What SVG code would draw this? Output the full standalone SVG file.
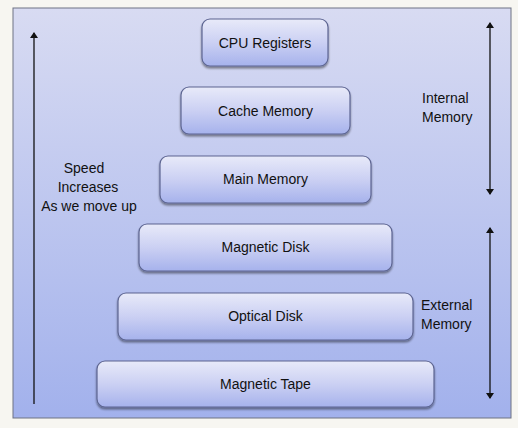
<svg xmlns="http://www.w3.org/2000/svg" width="518" height="428" viewBox="0 0 518 428">
<defs>
<linearGradient id="panel" x1="0" y1="0" x2="0" y2="1">
<stop offset="0" stop-color="#d8dbf2"/>
<stop offset="1" stop-color="#a2b1ec"/>
</linearGradient>
<linearGradient id="box" x1="0" y1="0" x2="0" y2="1">
<stop offset="0" stop-color="#e8eaf9"/>
<stop offset="0.5" stop-color="#cbd0f3"/>
<stop offset="1" stop-color="#a6b2ec"/>
</linearGradient>
<filter id="sh" x="-10%" y="-10%" width="120%" height="140%">
<feGaussianBlur in="SourceAlpha" stdDeviation="1.2"/>
<feOffset dx="0" dy="2" result="b"/>
<feComponentTransfer><feFuncA type="linear" slope="0.45"/></feComponentTransfer>
<feMerge><feMergeNode/><feMergeNode in="SourceGraphic"/></feMerge>
</filter>
<marker id="ah" viewBox="0 0 6 8" refX="5" refY="4" markerWidth="6" markerHeight="8" orient="auto" markerUnits="userSpaceOnUse">
<path d="M0,0 L6,4 L0,8 z" fill="#111"/>
</marker>
</defs>
<style>
.node rect{fill:url(#box);stroke:#5d6592;stroke-width:1.2;filter:url(#sh)}
.node text,.lbl{font-family:"Liberation Sans",Arial,sans-serif;font-size:14px;fill:#111}
.node text{text-anchor:middle}
.conn line{stroke:#111;stroke-width:1.3;marker-end:url(#ah)}
</style>
<rect width="518" height="428" fill="#f7f6f1"/>
<rect x="13" y="8" width="498" height="410" fill="url(#panel)" stroke="#6e7283" stroke-width="1"/>
<g id="cpu-registers" class="node"><rect x="202" y="19" width="126" height="47" rx="8"/><text x="265" y="48">CPU Registers</text></g>
<g id="cache-memory" class="node"><rect x="181" y="87" width="169" height="47" rx="8"/><text x="265.5" y="116">Cache Memory</text></g>
<g id="main-memory" class="node"><rect x="160" y="156" width="211" height="47" rx="8"/><text x="265.5" y="184">Main Memory</text></g>
<g id="magnetic-disk" class="node"><rect x="139" y="224" width="253" height="47" rx="8"/><text x="265.5" y="252">Magnetic Disk</text></g>
<g id="optical-disk" class="node"><rect x="118" y="293" width="295" height="47" rx="8"/><text x="265.5" y="321">Optical Disk</text></g>
<g id="magnetic-tape" class="node"><rect x="97" y="361" width="337" height="46" rx="8"/><text x="265.5" y="389">Magnetic Tape</text></g>
<g id="connectors" class="conn">
<line x1="34" y1="404" x2="34" y2="33"/>
<line x1="490" y1="108" x2="490" y2="23"/>
<line x1="490" y1="108" x2="490" y2="194"/>
<line x1="490" y1="312" x2="490" y2="228"/>
<line x1="490" y1="312" x2="490" y2="398"/>
</g>
<g id="labels">
<text class="lbl" x="84" y="173" text-anchor="middle">Speed</text>
<text class="lbl" x="88" y="192" text-anchor="middle">Increases</text>
<text class="lbl" x="89" y="211" text-anchor="middle">As we move up</text>
<text class="lbl" x="422" y="103">Internal</text>
<text class="lbl" x="422" y="122">Memory</text>
<text class="lbl" x="421" y="310">External</text>
<text class="lbl" x="421" y="329">Memory</text>
</g>
</svg>
